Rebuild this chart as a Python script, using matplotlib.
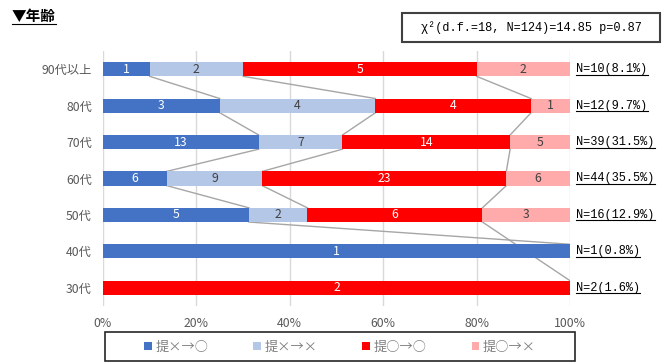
import matplotlib
matplotlib.use("Agg")
import matplotlib.pyplot as plt
from matplotlib.patches import Rectangle, Patch
from matplotlib.lines import Line2D
import numpy as np

plt.rcParams['font.family'] = ['Noto Sans CJK JP', 'DejaVu Sans']

# age groups, top to bottom
ages = ['90代以上', '80代', '70代', '60代', '50代', '40代', '30代']
series_names = ['提×→○', '提×→×', '提○→○', '提○→×']
colors = ['#4472C4', '#B4C7E7', '#FF0000', '#FFABAB']
text_colors = ['white', '#404040', 'white', '#404040']

counts_ng_ok = [1, 3, 13, 6, 5, 1, 0]
counts_ng_ng = [2, 4, 7, 9, 2, 0, 0]
counts_ok_ok = [5, 4, 14, 23, 6, 0, 2]
counts_ok_ng = [2, 1, 5, 6, 3, 0, 0]

n_labels = ['N=10(8.1%)', 'N=12(9.7%)', 'N=39(31.5%)', 'N=44(35.5%)',
            'N=16(12.9%)', 'N=1(0.8%)', 'N=2(1.6%)']
stat_text = 'χ²(d.f.=18, N=124)=14.85 p=0.87'

counts = np.array([counts_ng_ok, counts_ng_ng, counts_ok_ok, counts_ok_ng], dtype=float)
totals = counts.sum(axis=0)
share = counts / totals * 100
cum = np.cumsum(share, axis=0)

fig = plt.figure(figsize=(6.7, 3.63), dpi=100)
W, H = 670, 363
ax = fig.add_axes([103 / W, 1 - 306 / H, 467 / W, 255 / H])

ypos = np.arange(len(ages))
bar_h = 0.39
left = np.zeros(len(ages))
for k in range(4):
    ax.barh(ypos, share[k], left=left, height=bar_h, color=colors[k],
            label=series_names[k], zorder=3)
    for i in range(len(ages)):
        if counts[k, i] > 0:
            ax.text(left[i] + share[k, i] / 2, ypos[i], f'{int(counts[k, i])}',
                    ha='center', va='center', fontsize=8.8, color=text_colors[k],
                    zorder=4)
    left = left + share[k]

# series lines between segment boundaries (empty segments are skipped)
for k in range(3):
    idx = [i for i in range(len(ages)) if counts[k, i] > 0]
    for a, b in zip(idx[:-1], idx[1:]):
        ax.plot([cum[k, a], cum[k, b]], [ypos[a] + bar_h / 2, ypos[b] - bar_h / 2],
                color='#A6A6A6', lw=1, zorder=2)

ax.set_xlim(0, 100)
ax.set_ylim(len(ages) - 0.5, -0.5)
ax.set_xticks(np.arange(0, 101, 20))
ax.set_xticklabels([f'{v}%' for v in range(0, 101, 20)])
ax.set_yticks(ypos)
ax.set_yticklabels(ages)
ax.tick_params(length=0, labelsize=8.8, colors='#595959')
ax.tick_params(axis='x', pad=8)
ax.tick_params(axis='y', pad=8)
ax.grid(axis='x', color='#D9D9D9', lw=1, zorder=0)
for s in ax.spines.values():
    s.set_visible(False)

# N labels on the right
n_texts = []
for i, lab in enumerate(n_labels):
    t = ax.annotate(lab, xy=(1, ypos[i]), xycoords=('axes fraction', 'data'),
                    xytext=(4.5, 0), textcoords='offset points', ha='left',
                    va='center', fontsize=8.6, family=['Liberation Mono'],
                    color='black')
    n_texts.append(t)

# title
title = fig.text(12 / W, 1 - 16 / H, '▼年齢', fontsize=10.5, fontweight='bold',
                 ha='left', va='center')

# statistic box
fig.add_artist(Rectangle((402 / W, 1 - 42 / H), 258 / W, 29 / H,
                         transform=fig.transFigure, fill=False,
                         edgecolor='#404040', lw=1.5))
fig.text(531 / W, 1 - 28 / H, stat_text, ha='center', va='center',
         fontsize=8.6, family=['Liberation Mono', 'DejaVu Sans'])

# legend
fig.add_artist(Rectangle((105 / W, 1 - 361 / H), 470 / W, 29 / H,
                         transform=fig.transFigure, fill=False,
                         edgecolor='#262626', lw=1.2))
handles = [Patch(facecolor=c) for c in colors]
leg = fig.legend(handles, series_names, loc='center',
                 bbox_to_anchor=(340 / W, 1 - 347 / H), ncol=4, frameon=False,
                 fontsize=9.5, handlelength=0.55, handleheight=0.55,
                 handletextpad=0.3, columnspacing=3.4)
for txt in leg.get_texts():
    txt.set_color('#7F7F7F')

# underline the N labels and the title
fig.canvas.draw()
renderer = fig.canvas.get_renderer()
for t in n_texts + [title]:
    bb = t.get_window_extent(renderer)
    y = bb.y0 + 0.5
    fig.add_artist(Line2D([bb.x0 / W, bb.x1 / W], [y / H, y / H],
                          transform=fig.transFigure, color='black', lw=0.8))

fig.savefig('out.png', dpi=100)
